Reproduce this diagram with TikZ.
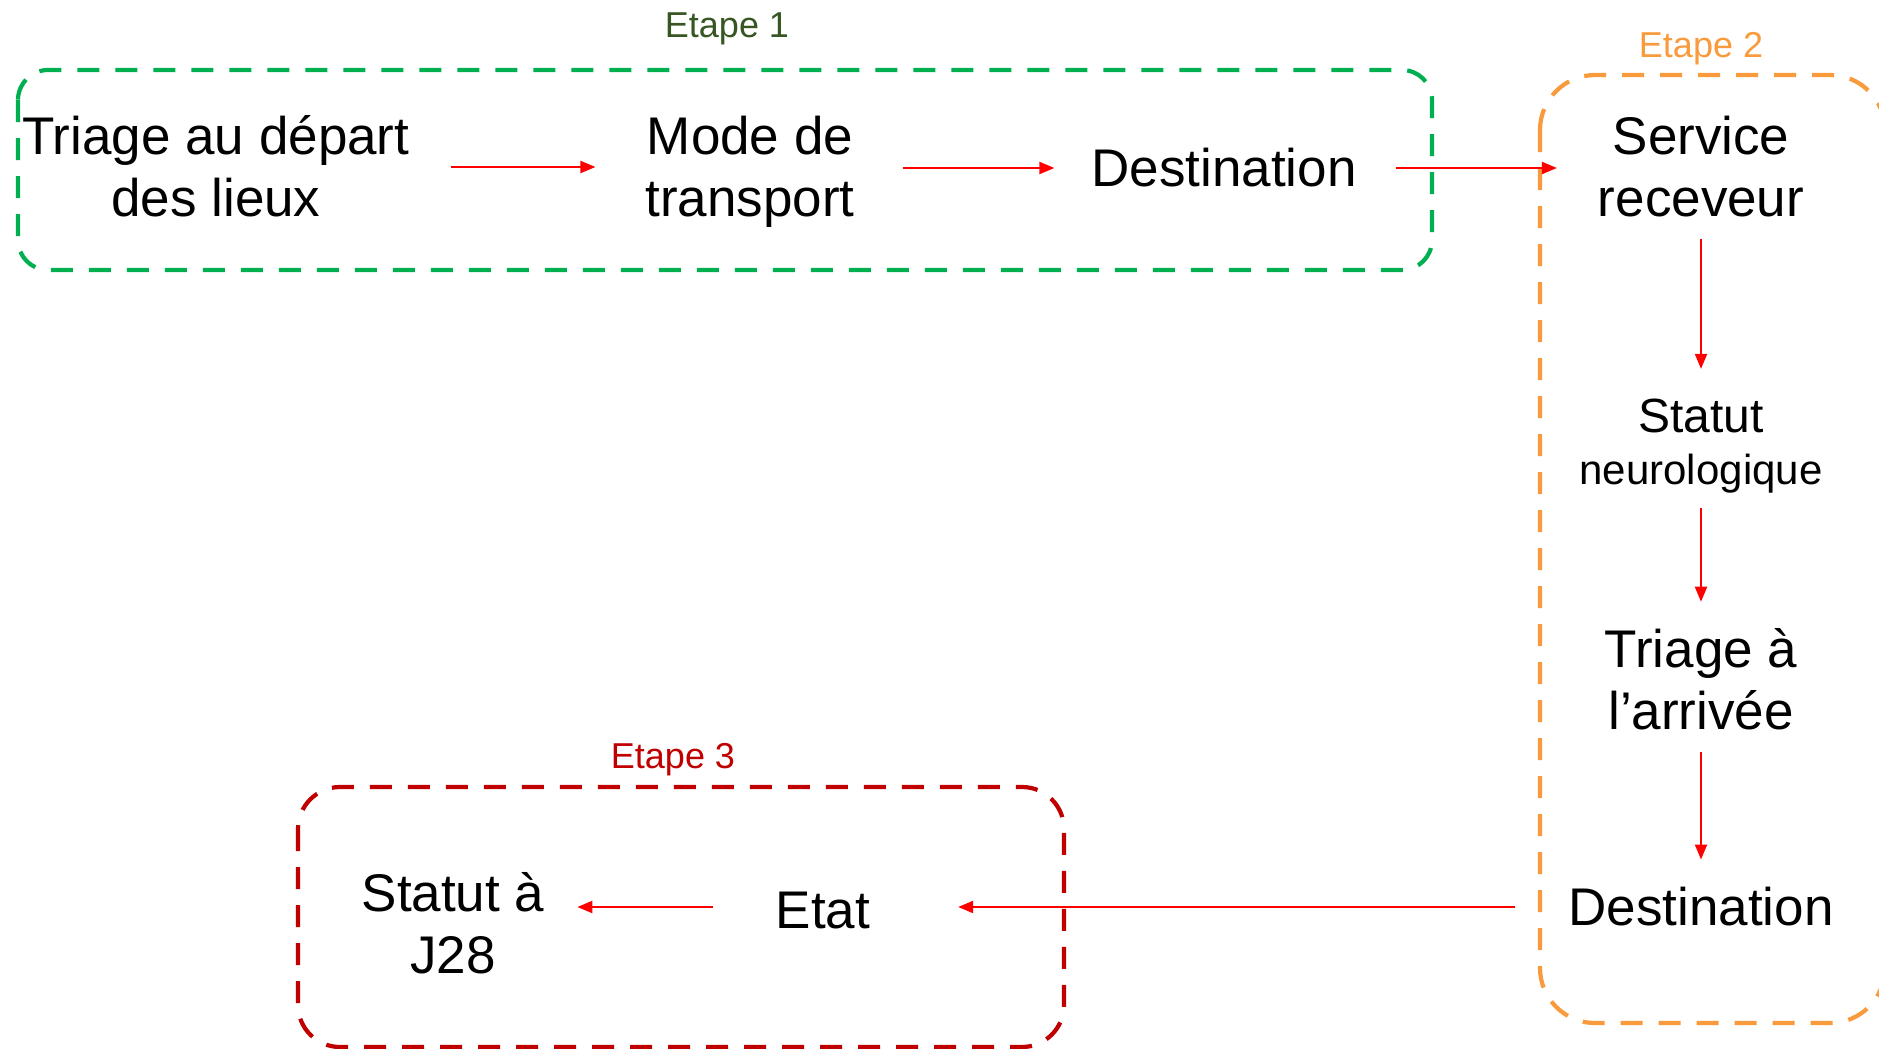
\documentclass[tikz,border=0pt]{standalone}
\usepackage{fontspec}
\setmainfont{Liberation Sans}
\usetikzlibrary{arrows.meta}
\definecolor{gbox}{HTML}{00B050}
\definecolor{gtext}{HTML}{375623}
\definecolor{obox}{HTML}{F99A3C}
\definecolor{rbox}{HTML}{C00000}
\definecolor{arrred}{HTML}{FF0000}
\tikzset{
  txt/.style={inner sep=0pt, outer sep=0pt, align=center, font=\fontsize{53}{62}\selectfont},
  steplbl/.style={inner sep=0pt, anchor=base, font=\fontsize{36}{40}\selectfont},
  stagebox/.style={line width=4.2pt, dash pattern=on 22pt off 16pt},
  arr/.style={draw=arrred, line width=2pt, -{Triangle[length=15pt,width=12pt]}}
}
\begin{document}
\begin{tikzpicture}[x=1pt,y=-1pt]
\useasboundingbox (0,0) rectangle (1879,1049);
% stage boxes
\draw[stagebox, gbox, rounded corners=30pt] (18,70) rectangle (1432,270);
\draw[stagebox, obox, rounded corners=55pt] (1540,75) rectangle (1885,1023);
\draw[stagebox, rbox, rounded corners=42pt] (298,787) rectangle (1064,1047);
% stage labels
\node[steplbl, text=gtext] (l1) at (727,38) {Etape 1};
\node[steplbl, text=obox] (l2) at (1701,58) {Etape 2};
\node[steplbl, text=rbox] (l3) at (673,768) {Etape 3};
% nodes
\node[txt] (t1) at (216,166) {Triage au départ\\des lieux};
\node[txt] (t2) at (750,172) {Mode de\\transport};
\node[txt] (t3) at (1224,168) {Destination};
\node[txt] (s1) at (1701,166.5) {Service\\receveur};
\node[txt, font=\fontsize{42}{52}\selectfont] (s2) at (1701,446) {{\fontsize{48}{48}\selectfont Statut}\\neurologique};
\node[txt] (s3) at (1701,679.5) {Triage à\\l’arrivée};
\node[txt] (s4) at (1701,907) {Destination};
\node[txt] (e1) at (823,911) {Etat};
\node[txt] (e2) at (453,923.5) {Statut à\\J28};
% connectors
\draw[arr, shorten <=42pt, shorten >=50pt] ([yshift=-1pt]t1.east) -- ([yshift=-1pt]t1.east -| t2.west);
\draw[arr, shorten <=48pt, shorten >=37pt] (t3.west -| t2.east) -- (t3.west);
\draw[arr, shorten <=39pt, shorten >=41pt] (t3.east) -- (t3.east -| s1.west);
\draw[arr, shorten <=22pt, shorten >=30pt] (s1.south) -- (s2.north);
\draw[arr, shorten <=15pt, shorten >=27pt] (s2.south) -- (s3.north);
\draw[arr, shorten <=22pt, shorten >=28pt] (s3.south) -- (s4.north);
\draw[arr, shorten <=53pt, shorten >=88pt] (s4.west) -- (s4.west -| e1.east);
\draw[arr, shorten <=63pt, shorten >=33pt] ([yshift=4pt]e1.west) -- ([yshift=4pt]e1.west -| e2.east);
\end{tikzpicture}
\end{document}
